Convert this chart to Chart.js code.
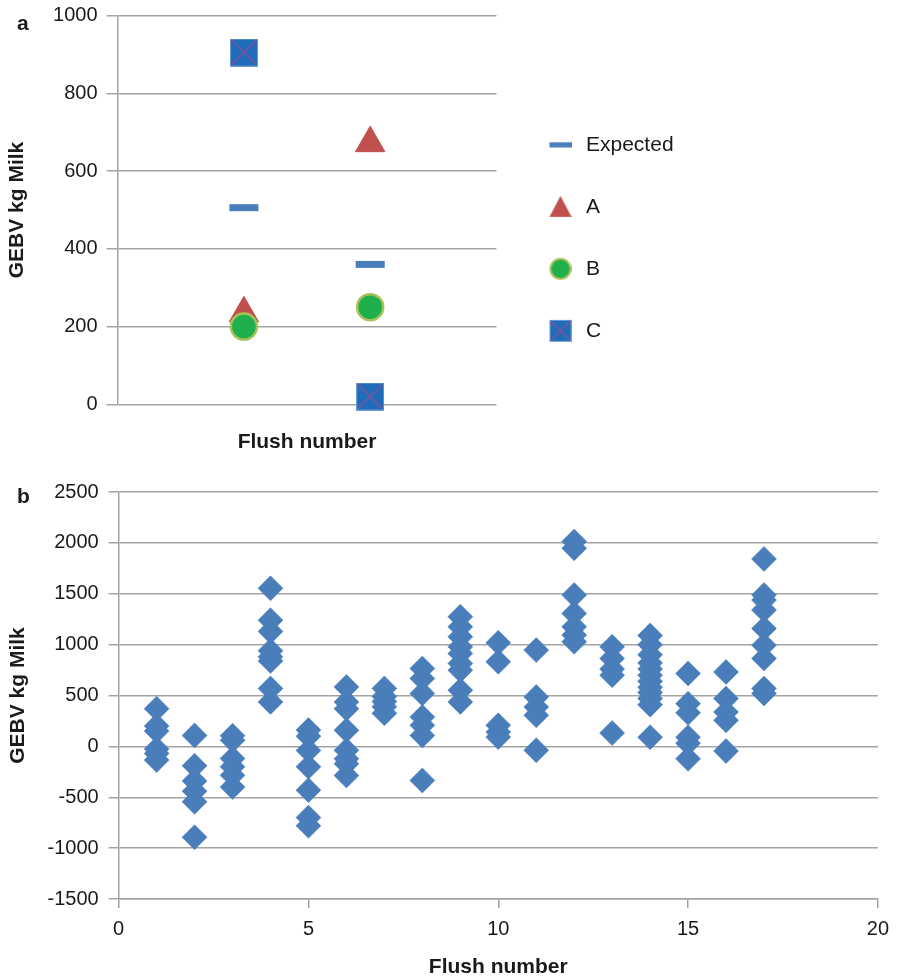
<!DOCTYPE html>
<html>
<head>
<meta charset="utf-8">
<script src="https://cdn.jsdelivr.net/npm/chart.js@4.4.1/dist/chart.umd.min.js"></script>
<style>
  html, body { margin: 0; padding: 0; background: #ffffff; overflow: hidden; width: 898px; height: 977px; }
  #wrap { position: relative; width: 898px; height: 977px; }
  canvas { position: absolute; left: 0; }
  #cA { top: 0; }
  #cB { top: 460px; }
  .plabel { position: absolute; font: bold 21px "Liberation Sans", Arial, sans-serif; color: #1a1a1a; line-height: 1; }
</style>
</head>
<body>
<div id="wrap">
  <canvas id="cA" width="898" height="470"></canvas>
  <canvas id="cB" width="898" height="520"></canvas>
  <div class="plabel" style="left:17px; top:12px;">a</div>
  <div class="plabel" style="left:17px; top:485px;">b</div>
</div>
<script>
// ---------- Panel a data ----------
const seriesNames = ['Expected', 'A', 'B', 'C'];
const flushA = [1, 2];
const expectedValues = [506, 360];
const aValues = [234, 672];
const bValues = [200, 250];
const cValues = [905, 20];
const yTicksA = [0, 200, 400, 600, 800, 1000];

// ---------- Panel b data ----------
const flushNumbers = [1, 2, 3, 4, 5, 6, 7, 8, 9, 10, 11, 12, 13, 14, 15, 16, 17];
const gebvByFlush = [
  [370, 200, 150, -25, -70, -135],
  [108, -190, -340, -440, -545, -893],
  [105, 60, -120, -200, -285, -400],
  [1553, 1240, 1130, 940, 880, 840, 570, 437],
  [160, 100, -40, -200, -430, -700, -780],
  [584, 437, 371, 158, -39, -122, -171, -286],
  [570, 490, 440, 390, 325],
  [765, 667, 519, 289, 207, 108, -335],
  [1274, 1175, 1077, 978, 913, 815, 749, 552, 437],
  [1018, 831, 207, 141, 92],
  [946, 486, 387, 305, -39],
  [2013, 1947, 1488, 1307, 1175, 1094, 1028],
  [978, 864, 760, 700, 131],
  [1090, 1000, 900, 820, 760, 700, 640, 580, 530, 470, 410, 90],
  [716, 420, 330, 90, 30, -122],
  [732, 470, 338, 256, -46],
  [1842, 1488, 1438, 1340, 1159, 995, 864, 568, 519]
];
const xTicksB = [0, 5, 10, 15, 20];
const yTicksB = [-1500, -1000, -500, 0, 500, 1000, 1500, 2000, 2500];

// ---------- styling ----------
const FONT = '"Liberation Sans", Arial, Helvetica, sans-serif';
const GRID = '#a3a3a3';
const TEXT = '#1a1a1a';
const BLUE = '#4a7ebb';
const RED = '#c0504d';
const GREEN = '#1fb04b';
const GREEN_EDGE = '#a5c15a';
const C_FILL = '#1f6cb8';
const C_X = '#8a4f9e';

function makeCanvas(w, h) {
  const c = document.createElement('canvas');
  c.width = w; c.height = h;
  return c;
}
function drawSquareX(g, cx, cy, s) {
  g.fillStyle = C_FILL;
  g.fillRect(cx - s / 2, cy - s / 2, s, s);
  g.strokeStyle = '#6e9ad4';
  g.lineWidth = 1;
  g.strokeRect(cx - s / 2 + 0.5, cy - s / 2 + 0.5, s - 1, s - 1);
  g.strokeStyle = C_X;
  g.lineWidth = 1.4;
  g.beginPath();
  g.moveTo(cx - s / 2 + 2, cy - s / 2 + 2); g.lineTo(cx + s / 2 - 2, cy + s / 2 - 2);
  g.moveTo(cx + s / 2 - 2, cy - s / 2 + 2); g.lineTo(cx - s / 2 + 2, cy + s / 2 - 2);
  g.stroke();
}
// plot marker for C
const cMarker = (() => { const c = makeCanvas(28, 28); drawSquareX(c.getContext('2d'), 14, 14, 28); return c; })();

// legend icons (drawn slightly right of centre of their box)
const LW = 30, LH = 24, LCX = 19, LCY = 12;
function legendIcon(kind) {
  const c = makeCanvas(LW, LH);
  const g = c.getContext('2d');
  if (kind === 0) {
    g.fillStyle = BLUE; g.fillRect(LCX - 11, LCY - 2.6, 22, 5.2);
  } else if (kind === 1) {
    g.fillStyle = RED; g.beginPath();
    g.moveTo(LCX, LCY - 11); g.lineTo(LCX + 11, LCY + 10); g.lineTo(LCX - 11, LCY + 10); g.closePath(); g.fill();
  } else if (kind === 2) {
    g.fillStyle = GREEN; g.strokeStyle = GREEN_EDGE; g.lineWidth = 2;
    g.beginPath(); g.arc(LCX, LCY, 10, 0, Math.PI * 2); g.fill(); g.stroke();
  } else {
    drawSquareX(g, LCX, LCY, 22);
  }
  return c;
}
const legendIcons = [0, 1, 2, 3].map(legendIcon);

function pts(xs, ys) { return xs.map((x, i) => ({ x: x, y: ys[i] })); }
const plainNumber = (v) => String(v);

// give the legend box a little more room so its text is not clipped
const widenLegend = {
  id: 'widenLegend',
  afterInit(chart) {
    const lg = chart.legend;
    if (!lg) return;
    const f = lg.fit;
    lg.fit = function () { f.call(this); this.width += 30; };
  }
};

Chart.defaults.font.family = FONT;
Chart.defaults.color = TEXT;

// ---------- Chart a ----------
new Chart(document.getElementById('cA'), {
  type: 'scatter',
  plugins: [widenLegend],
  data: {
    datasets: [
      { label: seriesNames[0], data: pts(flushA, expectedValues), pointStyle: 'line', pointRadius: 14.5,
        borderColor: BLUE, backgroundColor: BLUE, pointBorderWidth: 7, order: 1, clip: false },
      { label: seriesNames[1], data: pts(flushA, aValues), pointStyle: 'triangle', pointRadius: 17,
        borderColor: RED, backgroundColor: RED, pointBorderWidth: 1, order: 1, clip: false },
      { label: seriesNames[2], data: pts(flushA, bValues), pointStyle: 'circle', pointRadius: 13,
        borderColor: GREEN_EDGE, backgroundColor: GREEN, pointBorderWidth: 2.5, order: 0, clip: false },
      { label: seriesNames[3], data: pts(flushA, cValues), pointStyle: cMarker, pointRadius: 14,
        borderColor: C_FILL, backgroundColor: C_FILL, order: 1, clip: false }
    ]
  },
  options: {
    responsive: false,
    animation: false,
    events: [],
    layout: { autoPadding: false, padding: { left: 0, top: 15.7, right: 196, bottom: 10 } },
    plugins: {
      tooltip: { enabled: false },
      legend: {
        display: true,
        position: 'right',
        align: 'center',
        labels: {
          usePointStyle: true,
          pointStyleWidth: 38,
          boxHeight: 21,
          padding: 41,
          color: TEXT,
          font: { size: 21, family: FONT },
          generateLabels: () => seriesNames.map((name, i) => ({
            text: name, pointStyle: legendIcons[i], fillStyle: 'rgba(0,0,0,0)',
            strokeStyle: 'rgba(0,0,0,0)', lineWidth: 0, hidden: false, datasetIndex: i, fontColor: TEXT
          }))
        }
      }
    },
    scales: {
      x: {
        type: 'linear', min: 0, max: 3,
        grid: { display: false, drawTicks: false },
        border: { display: false },
        ticks: { display: false },
        title: { display: true, text: 'Flush number', color: TEXT,
          font: { size: 21, weight: 'bold', family: FONT }, padding: { top: 25.1, bottom: 5.4 } }
      },
      y: {
        type: 'linear', min: yTicksA[0], max: yTicksA[yTicksA.length - 1],
        afterBuildTicks: (s) => { s.ticks = yTicksA.map(v => ({ value: v })); },
        grid: { color: GRID, lineWidth: 1.5, tickLength: 11, drawTicks: true },
        border: { display: true, color: GRID, width: 1.5 },
        ticks: { padding: 9, color: TEXT, font: { size: 20, family: FONT, lineHeight: 0.6 }, callback: plainNumber },
        title: { display: true, text: 'GEBV kg Milk', color: TEXT,
          font: { size: 21, weight: 'bold', family: FONT }, padding: { top: 4.4, bottom: 14.5 } }
      }
    }
  }
});

// ---------- Chart b ----------
const bPoints = [];
flushNumbers.forEach((f, i) => gebvByFlush[i].forEach(v => bPoints.push({ x: f, y: v })));

new Chart(document.getElementById('cB'), {
  type: 'scatter',
  data: {
    datasets: [{
      label: 'GEBV', data: bPoints, pointStyle: 'rectRot', pointRadius: 12.5,
      backgroundColor: BLUE, borderColor: BLUE, pointBorderWidth: 0.5, clip: false
    }]
  },
  options: {
    responsive: false,
    animation: false,
    events: [],
    layout: { autoPadding: false, padding: { left: 0, top: 32, right: 19, bottom: 0 } },
    plugins: { legend: { display: false }, tooltip: { enabled: false } },
    scales: {
      x: {
        type: 'linear', min: xTicksB[0], max: xTicksB[xTicksB.length - 1],
        afterBuildTicks: (s) => { s.ticks = xTicksB.map(v => ({ value: v })); },
        grid: { drawOnChartArea: false, drawTicks: true, tickLength: 9, color: GRID, lineWidth: 1.5 },
        border: { display: true, color: GRID, width: 1.5 },
        ticks: { padding: 9, color: TEXT, font: { size: 20, family: FONT }, maxRotation: 0, callback: plainNumber },
        title: { display: true, text: 'Flush number', color: TEXT,
          font: { size: 21, weight: 'bold', family: FONT }, padding: { top: 4.4, bottom: 0.4 } }
      },
      y: {
        type: 'linear', min: yTicksB[0], max: yTicksB[yTicksB.length - 1],
        afterBuildTicks: (s) => { s.ticks = yTicksB.map(v => ({ value: v })); },
        grid: { color: GRID, lineWidth: 1.5, tickLength: 10, drawTicks: true },
        border: { display: true, color: GRID, width: 1.5 },
        ticks: { padding: 10, color: TEXT, font: { size: 20, family: FONT }, callback: plainNumber },
        title: { display: true, text: 'GEBV kg Milk', color: TEXT,
          font: { size: 21, weight: 'bold', family: FONT }, padding: { top: 5.4, bottom: 6.9 } }
      }
    }
  }
});
</script>
</body>
</html>
